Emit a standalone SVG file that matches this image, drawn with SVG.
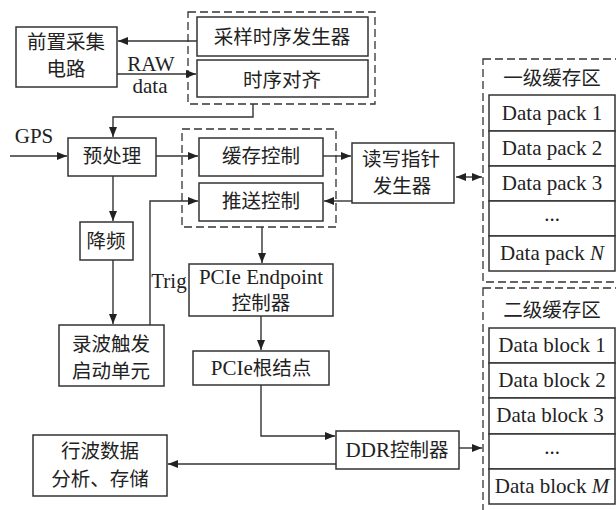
<svg xmlns="http://www.w3.org/2000/svg" width="616" height="510" viewBox="0 0 616 510">
<style>
.b{fill:#fff;stroke:#333;stroke-width:1.5}
.d{fill:none;stroke:#333;stroke-width:1.3;stroke-dasharray:8,4}
.l{fill:none;stroke:#333;stroke-width:1.4}
.c{font-family:"Noto Sans CJK SC","Liberation Serif",serif;font-size:19.5px;fill:#222;text-anchor:middle}
.e{font-family:"Liberation Serif","Noto Sans CJK SC",serif;font-size:21px;fill:#222;text-anchor:middle}
</style>
<defs>
<marker id="a" viewBox="0 0 10 8" refX="10" refY="4" markerWidth="10" markerHeight="8" markerUnits="userSpaceOnUse" orient="auto-start-reverse"><path d="M0,0L10,4L0,8z" fill="#222"/></marker>
</defs>
<rect width="616" height="510" fill="#fff"/>
<g id="groups">
<rect class="d" x="188" y="12" width="187" height="92"/>
<rect class="d" x="182" y="129" width="154" height="98"/>
<rect class="d" x="483" y="59" width="140" height="223"/>
<rect class="d" x="483" y="288" width="140" height="230"/>
</g>
<g id="connectors">
<path class="l" d="M197,41H118" marker-end="url(#a)"/>
<path class="l" d="M117,74H196" marker-end="url(#a)"/>
<path class="l" d="M253,104V117H113V137" marker-end="url(#a)"/>
<path class="l" d="M10,156H67" marker-end="url(#a)"/>
<path class="l" d="M156,156H198" marker-end="url(#a)"/>
<path class="l" d="M323,156H351" marker-end="url(#a)"/>
<path class="l" d="M352,201H324" marker-end="url(#a)"/>
<path class="l" d="M456,177H482" marker-start="url(#a)" marker-end="url(#a)"/>
<path class="l" d="M113,176V221" marker-end="url(#a)"/>
<path class="l" d="M113,260V324" marker-end="url(#a)"/>
<path class="l" d="M150,325V201H198" marker-end="url(#a)"/>
<path class="l" d="M262,227V263" marker-end="url(#a)"/>
<path class="l" d="M261,316V350" marker-end="url(#a)"/>
<path class="l" d="M261,385V436H335" marker-end="url(#a)"/>
<path class="l" d="M459,448H482" marker-end="url(#a)"/>
<path class="l" d="M336,464H168" marker-end="url(#a)"/>
</g>
<g id="n_front"><rect class="b" x="16" y="27" width="101" height="60"/><text class="c" x="66" y="49">前置采集</text><text class="c" x="66" y="76">电路</text></g>
<g id="n_sample"><rect class="b" x="197" y="17" width="171" height="39"/><text class="c" x="282" y="44">采样时序发生器</text></g>
<g id="n_align"><rect class="b" x="197" y="60" width="171" height="37"/><text class="c" x="282" y="87">时序对齐</text></g>
<g id="l_raw"><text class="e" x="151" y="71">RAW</text><text class="e" x="150" y="93">data</text></g>
<g id="l_gps"><text class="e" x="34" y="143">GPS</text></g>
<g id="n_pre"><rect class="b" x="68" y="138" width="88" height="38"/><text class="c" x="112" y="163">预处理</text></g>
<g id="n_buf"><rect class="b" x="199" y="138" width="124" height="38"/><text class="c" x="261" y="163">缓存控制</text></g>
<g id="n_push"><rect class="b" x="199" y="183" width="124" height="38"/><text class="c" x="261" y="208">推送控制</text></g>
<g id="n_ptr"><rect class="b" x="352" y="143" width="102" height="60"/><text class="c" x="401" y="166">读写指针</text><text class="c" x="402" y="193">发生器</text></g>
<g id="n_dec"><rect class="b" x="80" y="222" width="53" height="38"/><text class="c" x="106" y="248">降频</text></g>
<g id="l_trig"><text class="e" x="169" y="288">Trig</text></g>
<g id="n_ep"><rect class="b" x="189" y="264" width="144" height="52"/><text class="e" x="261" y="284">PCIe Endpoint</text><text class="c" x="261" y="310">控制器</text></g>
<g id="n_trigunit"><rect class="b" x="59" y="325" width="105" height="61"/><text class="c" x="111" y="351">录波触发</text><text class="c" x="111" y="378">启动单元</text></g>
<g id="n_root"><rect class="b" x="193" y="351" width="136" height="34"/><text class="c" x="261" y="375"><tspan style="font-family:'Liberation Serif';font-size:21px">PCIe</tspan>根结点</text></g>
<g id="n_ddr"><rect class="b" x="336" y="431" width="123" height="38"/><text class="c" x="397" y="457"><tspan style="font-family:'Liberation Serif';font-size:21px">DDR</tspan>控制器</text></g>
<g id="n_ana"><rect class="b" x="33" y="435" width="134" height="61"/><text class="c" x="100" y="458">行波数据</text><text class="c" x="100" y="486">分析、存储</text></g>
<g id="n_l1">
<text class="c" x="552" y="85">一级缓存区</text>
<rect class="b" x="489" y="95" width="126" height="36"/><text class="e" x="552" y="120">Data pack 1</text>
<rect class="b" x="489" y="131" width="126" height="35"/><text class="e" x="552" y="155">Data pack 2</text>
<rect class="b" x="489" y="166" width="126" height="35"/><text class="e" x="552" y="190">Data pack 3</text>
<rect class="b" x="489" y="201" width="126" height="35"/><text class="e" x="552" y="221">...</text>
<rect class="b" x="489" y="236" width="126" height="35"/><text class="e" x="552" y="260">Data pack <tspan font-style="italic">N</tspan></text>
</g>
<g id="n_l2">
<text class="c" x="552" y="317">二级缓存区</text>
<rect class="b" x="489" y="328" width="126" height="35"/><text class="e" x="552" y="352">Data block 1</text>
<rect class="b" x="489" y="363" width="126" height="35"/><text class="e" x="552" y="387">Data block 2</text>
<rect class="b" x="489" y="398" width="126" height="36"/><text class="e" x="550" y="422">Data block 3</text>
<rect class="b" x="489" y="434" width="126" height="35"/><text class="e" x="552" y="454">...</text>
<rect class="b" x="489" y="469" width="126" height="35"/><text class="e" x="552" y="493">Data block <tspan font-style="italic">M</tspan></text>
</g>
</svg>
